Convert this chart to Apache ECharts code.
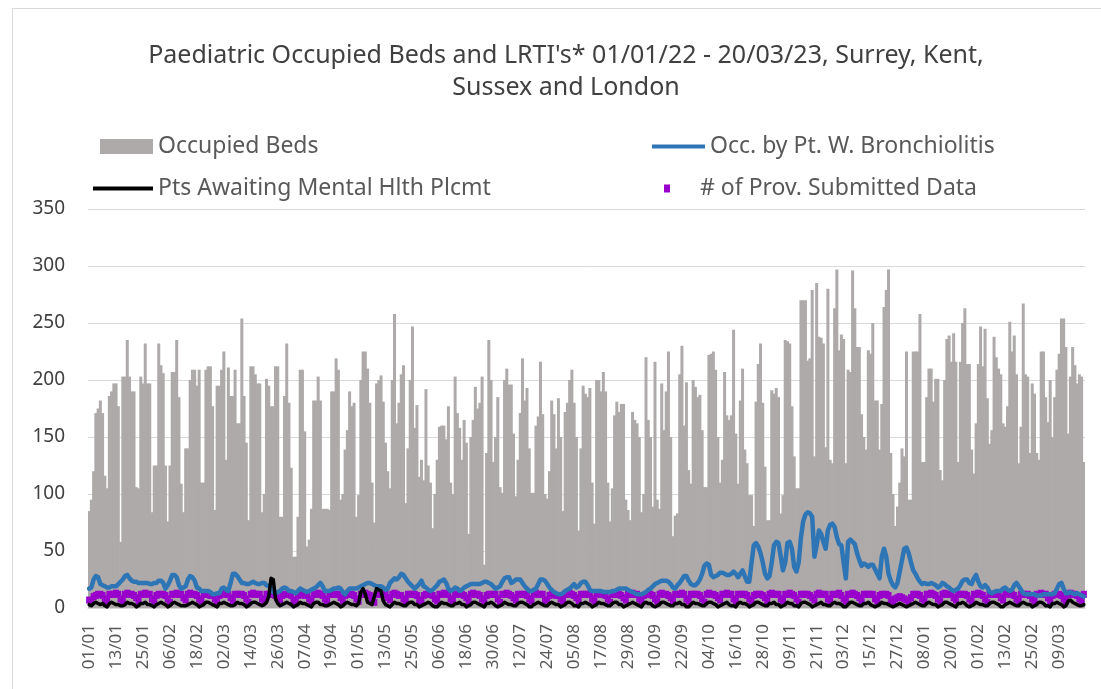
<!DOCTYPE html>
<html>
<head>
<meta charset="utf-8">
<title>Paediatric Occupied Beds</title>
<script src="https://cdn.jsdelivr.net/npm/echarts@6/dist/echarts.min.js"></script>
<style>
  html, body { margin: 0; padding: 0; background: #fff; overflow: hidden; }
  #frame { position: absolute; left: 12px; top: 8px; width: 1200px; height: 800px; border: 1px solid #d9d9d9; box-sizing: border-box; }
  #chart { position: absolute; left: 0; top: 0; width: 1132px; height: 689px; }
</style>
</head>
<body>
<div id="frame"></div>
<div id="chart"></div>
<script>
  // daily values 01/01/22 - 20/03/23, rows are Sat..Fri weeks
  const occupiedBeds = [
    85, 95, 120, 171, 175, 182, 171,
    116, 105, 186, 190, 197, 197, 177,
    58, 203, 203, 235, 203, 190, 190,
    106, 105, 203, 197, 232, 197, 197,
    84, 125, 125, 232, 213, 206, 125,
    76, 125, 207, 207, 235, 185, 109,
    84, 140, 140, 200, 209, 209, 195,
    209, 110, 110, 209, 212, 212, 177,
    86, 195, 195, 209, 225, 130, 211,
    186, 186, 209, 162, 162, 254, 186,
    145, 77, 212, 212, 205, 197, 197,
    84, 100, 201, 195, 177, 177, 212,
    212, 80, 80, 186, 232, 180, 123,
    45, 45, 80, 209, 209, 155, 54,
    60, 87, 182, 182, 203, 182, 87,
    87, 87, 86, 190, 190, 219, 209,
    95, 100, 139, 156, 190, 177, 180,
    80, 99, 200, 225, 225, 210, 180,
    110, 75, 197, 200, 204, 181, 145,
    120, 105, 200, 258, 162, 180, 205,
    213, 92, 140, 200, 247, 158, 178,
    115, 130, 112, 192, 125, 110, 70,
    100, 130, 159, 160, 160, 148, 177,
    110, 100, 203, 171, 158, 130, 165,
    145, 65, 150, 165, 194, 175, 180,
    203, 38, 136, 235, 200, 128, 150,
    185, 106, 101, 200, 210, 196, 196,
    153, 98, 130, 171, 219, 182, 193,
    140, 101, 101, 160, 168, 216, 170,
    100, 96, 120, 182, 170, 140, 184,
    150, 85, 172, 180, 200, 209, 180,
    150, 68, 140, 195, 188, 185, 193,
    110, 74, 200, 200, 190, 207, 190,
    110, 76, 105, 169, 181, 172, 179,
    179, 95, 86, 77, 172, 165, 162,
    150, 84, 100, 220, 165, 150, 89,
    216, 95, 87, 197, 156, 190, 225,
    150, 63, 81, 83, 205, 230, 160,
    198, 121, 109, 200, 194, 185, 187,
    156, 106, 106, 222, 223, 225, 209,
    150, 110, 130, 207, 169, 165, 169,
    244, 153, 109, 182, 210, 139, 127,
    99, 99, 72, 181, 214, 232, 180,
    124, 77, 77, 191, 188, 193, 185,
    83, 99, 235, 234, 232, 177, 133,
    105, 105, 270, 270, 270, 217, 219,
    279, 133, 285, 238, 237, 232, 141,
    280, 130, 127, 263, 297, 226, 240,
    236, 127, 209, 207, 296, 263, 229,
    229, 170, 150, 139, 226, 223, 250,
    182, 182, 139, 179, 264, 279, 297,
    136, 100, 72, 89, 110, 140, 133,
    225, 95, 95, 225, 225, 225, 258,
    128, 128, 185, 210, 210, 181, 201,
    201, 121, 112, 200, 236, 239, 216,
    241, 216, 128, 216, 250, 263, 214,
    214, 139, 118, 162, 214, 247, 212,
    245, 184, 144, 156, 238, 220, 210,
    205, 162, 159, 177, 251, 225, 239,
    205, 127, 159, 267, 205, 203, 136,
    197, 188, 136, 130, 225, 225, 185,
    163, 200, 150, 185, 209, 223, 254,
    254, 229, 153, 203, 229, 213, 197,
    205, 203, 128
  ];

  const bronchiolitis = [
    17, 18, 25, 28, 27, 21, 20,
    19, 18, 18, 19, 19, 19, 21,
    23, 25, 28, 29, 26, 24, 23,
    23, 22, 22, 22, 22, 22, 21,
    21, 22, 22, 24, 24, 22, 17,
    20, 24, 29, 29, 27, 20, 17,
    18, 19, 25, 28, 27, 24, 18,
    17, 15, 15, 15, 15, 14, 12,
    12, 13, 13, 17, 18, 16, 15,
    22, 30, 30, 28, 25, 22, 22,
    21, 21, 22, 23, 22, 21, 21,
    22, 22, 20, 19, 18, 14, 13,
    14, 15, 17, 18, 17, 15, 15,
    14, 13, 15, 17, 16, 15, 14,
    15, 16, 17, 18, 20, 22, 19,
    15, 15, 15, 16, 17, 17, 18,
    17, 14, 12, 15, 17, 17, 17,
    17, 18, 19, 20, 21, 22, 22,
    21, 20, 19, 19, 19, 18, 16,
    17, 22, 24, 26, 25, 27, 30,
    29, 26, 23, 21, 19, 17, 19,
    21, 24, 19, 18, 16, 15, 16,
    18, 20, 23, 24, 25, 22, 17,
    15, 16, 18, 17, 15, 16, 18,
    19, 20, 21, 21, 21, 21, 21,
    22, 23, 23, 22, 21, 19, 17,
    18, 19, 23, 26, 27, 27, 22,
    23, 25, 25, 25, 22, 19, 17,
    15, 15, 16, 17, 21, 25, 25,
    24, 21, 18, 16, 14, 13, 12,
    12, 13, 15, 16, 17, 19, 21,
    18, 19, 22, 23, 23, 20, 16,
    15, 15, 15, 15, 15, 14, 14,
    14, 14, 15, 15, 16, 17, 17,
    17, 17, 16, 15, 14, 13, 12,
    12, 12, 13, 14, 16, 17, 19,
    21, 22, 23, 24, 24, 24, 23,
    21, 18, 17, 20, 22, 25, 28,
    28, 24, 21, 20, 20, 22, 25,
    30, 37, 39, 38, 29, 27, 28,
    29, 31, 31, 30, 29, 29, 30,
    32, 30, 27, 30, 33, 28, 23,
    23, 40, 55, 57, 54, 48, 40,
    30, 26, 28, 40, 55, 58, 57,
    45, 33, 40, 57, 58, 52, 36,
    32, 40, 62, 76, 82, 84, 83,
    80, 45, 55, 68, 65, 58, 52,
    68, 73, 74, 71, 62, 56, 55,
    40, 26, 58, 60, 58, 56, 48,
    42, 37, 39, 38, 36, 38, 38,
    34, 30, 26, 45, 52, 45, 30,
    24, 20, 18, 22, 32, 42, 52,
    53, 48, 40, 33, 30, 26, 23,
    21, 22, 21, 21, 22, 21, 20,
    18, 19, 22, 21, 19, 18, 16,
    15, 16, 17, 20, 24, 25, 25,
    22, 21, 26, 29, 23, 19, 18,
    20, 18, 14, 13, 14, 15, 15,
    15, 17, 18, 16, 15, 16, 20,
    22, 19, 16, 13, 12, 12, 12,
    12, 12, 11, 11, 11, 12, 12,
    12, 12, 12, 13, 17, 21, 22,
    17, 13, 13, 14, 13, 12, 13,
    12, 11, 10
  ];

  const mentalHealth = [
    3, 2, 4, 5, 4, 3, 4,
    2, 1, 4, 5, 4, 3, 3,
    2, 2, 3, 5, 4, 4, 3,
    1, 2, 4, 4, 5, 3, 3,
    2, 1, 3, 4, 5, 4, 3,
    1, 2, 4, 5, 4, 3, 2,
    2, 2, 3, 4, 5, 4, 3,
    1, 2, 3, 5, 5, 4, 3,
    2, 1, 4, 4, 5, 4, 3,
    2, 2, 3, 5, 4, 4, 3,
    1, 2, 4, 5, 5, 4, 3,
    2, 3, 5, 10, 26, 25, 8,
    4, 2, 3, 4, 5, 4, 3,
    1, 2, 3, 5, 4, 4, 3,
    2, 1, 4, 5, 5, 3, 3,
    2, 2, 3, 4, 5, 4, 3,
    1, 2, 4, 5, 4, 3, 3,
    2, 4, 14, 17, 12, 5, 4,
    3, 10, 17, 16, 15, 6, 3,
    2, 1, 3, 5, 4, 4, 3,
    2, 2, 4, 5, 5, 3, 3,
    1, 2, 3, 4, 5, 4, 2,
    1, 1, 3, 5, 4, 4, 3,
    2, 2, 4, 4, 5, 3, 3,
    1, 2, 3, 5, 5, 4, 3,
    2, 1, 4, 4, 5, 4, 2,
    1, 2, 3, 5, 4, 3, 3,
    2, 2, 4, 5, 5, 4, 3,
    1, 1, 3, 4, 5, 4, 3,
    2, 2, 4, 5, 4, 3, 3,
    1, 2, 3, 5, 5, 4, 2,
    2, 1, 4, 4, 5, 4, 3,
    1, 2, 3, 5, 4, 4, 3,
    2, 2, 4, 5, 5, 3, 3,
    1, 2, 3, 4, 5, 4, 3,
    2, 1, 4, 5, 4, 4, 2,
    1, 2, 3, 5, 5, 4, 3,
    2, 2, 4, 4, 5, 3, 3,
    1, 1, 3, 5, 4, 4, 3,
    2, 2, 4, 5, 5, 4, 3,
    1, 2, 3, 4, 5, 3, 2,
    2, 1, 4, 5, 4, 4, 3,
    1, 2, 3, 5, 5, 4, 3,
    2, 2, 4, 4, 5, 3, 3,
    1, 2, 3, 5, 4, 4, 2,
    2, 1, 4, 5, 5, 4, 3,
    1, 2, 3, 4, 5, 3, 3,
    2, 2, 4, 5, 4, 4, 3,
    1, 1, 3, 5, 5, 4, 3,
    2, 2, 4, 4, 5, 3, 2,
    1, 2, 3, 5, 4, 4, 3,
    2, 1, 2, 3, 4, 3, 2,
    1, 2, 3, 4, 5, 4, 3,
    2, 2, 4, 5, 4, 3, 3,
    1, 2, 3, 5, 5, 4, 3,
    2, 1, 4, 4, 5, 4, 2,
    1, 2, 3, 5, 4, 3, 3,
    2, 2, 4, 5, 5, 4, 3,
    1, 1, 3, 4, 5, 4, 3,
    2, 2, 4, 5, 4, 3, 3,
    1, 2, 3, 5, 5, 4, 2,
    2, 1, 4, 4, 5, 4, 3,
    1, 2, 6, 7, 5, 4, 3,
    2, 2, 3
  ];

  const providers = [
    7, 6, 10, 11, 12, 12, 11,
    8, 6, 12, 12, 12, 13, 12,
    8, 6, 12, 13, 12, 12, 11,
    9, 6, 12, 12, 13, 12, 12,
    8, 6, 11, 12, 12, 12, 11,
    8, 5, 12, 12, 13, 12, 12,
    9, 7, 12, 13, 12, 12, 11,
    8, 6, 12, 12, 12, 11, 11,
    8, 6, 11, 12, 13, 12, 12,
    9, 6, 12, 12, 12, 12, 11,
    8, 5, 12, 13, 12, 12, 12,
    8, 6, 12, 12, 12, 13, 11,
    9, 7, 11, 12, 12, 12, 11,
    7, 5, 11, 12, 12, 11, 11,
    8, 6, 12, 12, 13, 12, 11,
    8, 6, 12, 13, 12, 12, 12,
    9, 6, 11, 12, 12, 12, 11,
    8, 6, 12, 12, 13, 12, 11,
    8, 5, 12, 12, 12, 12, 12,
    9, 7, 12, 13, 12, 11, 11,
    8, 6, 12, 12, 12, 12, 11,
    7, 5, 11, 12, 12, 12, 11,
    8, 6, 12, 12, 13, 12, 12,
    8, 6, 12, 12, 12, 12, 11,
    9, 6, 12, 13, 12, 12, 11,
    8, 6, 11, 12, 12, 12, 12,
    8, 5, 12, 12, 13, 12, 11,
    9, 7, 12, 12, 12, 12, 11,
    8, 6, 12, 13, 12, 12, 12,
    7, 6, 11, 12, 12, 11, 11,
    8, 6, 12, 12, 13, 12, 11,
    9, 6, 12, 12, 12, 12, 12,
    8, 6, 12, 13, 12, 12, 11,
    8, 5, 12, 12, 12, 12, 11,
    9, 7, 12, 12, 13, 12, 12,
    8, 6, 11, 12, 12, 12, 11,
    8, 6, 12, 13, 12, 12, 11,
    9, 6, 12, 12, 12, 13, 12,
    8, 6, 12, 12, 12, 12, 11,
    8, 5, 12, 13, 12, 12, 11,
    9, 7, 12, 12, 13, 12, 12,
    8, 6, 12, 12, 12, 12, 11,
    8, 6, 11, 12, 12, 12, 11,
    9, 6, 12, 13, 12, 12, 12,
    8, 6, 12, 12, 13, 12, 11,
    8, 5, 12, 12, 12, 12, 11,
    9, 7, 12, 13, 12, 12, 12,
    8, 6, 12, 12, 12, 13, 11,
    8, 6, 12, 12, 13, 12, 11,
    9, 6, 12, 12, 12, 12, 12,
    8, 6, 11, 12, 12, 12, 11,
    7, 5, 8, 9, 10, 9, 8,
    7, 5, 9, 12, 12, 12, 11,
    8, 6, 12, 12, 13, 12, 11,
    8, 6, 12, 13, 12, 12, 12,
    9, 7, 12, 12, 12, 12, 11,
    8, 6, 12, 12, 13, 12, 11,
    8, 5, 12, 12, 12, 12, 12,
    9, 7, 12, 13, 12, 12, 11,
    8, 6, 12, 12, 12, 12, 11,
    8, 6, 12, 12, 13, 12, 12,
    9, 6, 11, 12, 12, 12, 11,
    8, 6, 12, 13, 12, 12, 11,
    8, 6, 12
  ];

  // one category per day, labelled dd/mm
  const categories = [];
  const start = Date.UTC(2022, 0, 1);
  for (let i = 0; i < occupiedBeds.length; i++) {
    const d = new Date(start + i * 86400000);
    const dd = String(d.getUTCDate()).padStart(2, '0');
    const mm = String(d.getUTCMonth() + 1).padStart(2, '0');
    categories.push(dd + '/' + mm);
  }

  const yTicks = [0, 50, 100, 150, 200, 250, 300, 350];

  const FONT = '"Noto Sans", sans-serif';
  const legendText = { fontSize: 23, color: '#595959', fontFamily: FONT };

  const chart = echarts.init(document.getElementById('chart'));

  const option = {
    animation: false,
    backgroundColor: 'transparent',
    title: {
      text: "Paediatric Occupied Beds and LRTI's* 01/01/22 - 20/03/23, Surrey, Kent,\nSussex and London",
      left: 'center',
      top: 35,
      textStyle: { fontSize: 25, fontWeight: 'normal', color: '#404040', fontFamily: FONT, lineHeight: 32 },
    },
    legend: [
      { left: 95, top: 130, icon: 'rect', itemWidth: 53, itemHeight: 15, data: ['Occupied Beds'], textStyle: legendText },
      { left: 647, top: 130, icon: 'rect', itemWidth: 53, itemHeight: 4, data: ['Occ. by Pt. W. Bronchiolitis'], textStyle: legendText },
      { left: 88, top: 172, icon: 'rect', itemWidth: 60, itemHeight: 4, data: ['Pts Awaiting Mental Hlth Plcmt'], textStyle: legendText },
      {
        left: 659, top: 172, icon: 'rect', itemWidth: 6, itemHeight: 8,
        data: ['# of Prov. Submitted Data'],
        formatter: '{p|{name}}',
        textStyle: Object.assign({}, legendText, { rich: { p: { padding: [0, 0, 0, 25], fontSize: 23, color: '#595959', fontFamily: FONT } } }),
      },
    ],
    grid: { left: 88, right: 47, top: 209, bottom: 81, containLabel: false },
    xAxis: {
      type: 'category',
      data: categories,
      boundaryGap: true,
      axisLine: { lineStyle: { color: '#d9d9d9' } },
      axisTick: { show: false },
      axisLabel: { interval: 11, rotate: 90, fontSize: 17, color: '#595959', fontFamily: FONT, margin: 16 },
      splitLine: { show: false },
    },
    yAxis: {
      type: 'value',
      min: yTicks[0],
      max: yTicks[yTicks.length - 1],
      interval: 50,
      axisLine: { show: false },
      axisTick: { show: false },
      axisLabel: { fontSize: 19, color: '#404040', fontFamily: FONT, margin: 23 },
      splitLine: { lineStyle: { color: '#d9d9d9', width: 1 } },
    },
    series: [
      {
        name: 'Occupied Beds',
        type: 'bar',
        data: occupiedBeds,
        barWidth: 3,
        barGap: '0%',
        itemStyle: { color: '#aeaaaa' },
      },
      {
        name: 'Occ. by Pt. W. Bronchiolitis',
        type: 'line',
        data: bronchiolitis,
        symbol: 'none',
        lineStyle: { width: 4.5, color: '#2e75b6', cap: 'round', join: 'round' },
        itemStyle: { color: '#2e75b6' },
      },
      {
        name: 'Pts Awaiting Mental Hlth Plcmt',
        type: 'line',
        data: mentalHealth,
        symbol: 'none',
        lineStyle: { width: 3.5, color: '#000000', cap: 'round', join: 'round' },
        itemStyle: { color: '#000000' },
      },
      {
        name: '# of Prov. Submitted Data',
        type: 'scatter',
        data: providers,
        symbol: 'rect',
        symbolSize: [6, 7],
        itemStyle: { color: '#9900cc', opacity: 1 },
      },
    ],
  };

  chart.setOption(option);
</script>
</body>
</html>
